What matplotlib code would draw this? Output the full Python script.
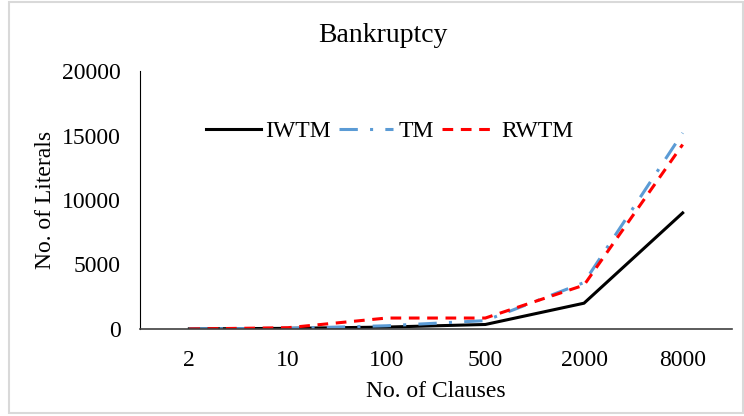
import matplotlib
matplotlib.use("Agg")
import matplotlib.pyplot as plt
from matplotlib.patches import Rectangle

plt.rcParams['font.family'] = ['Liberation Serif', 'DejaVu Serif']

clauses = ["2", "10", "100", "500", "2000", "8000"]
iwtm = [10, 50, 150, 350, 2000, 9000]
tm = [10, 50, 250, 650, 3600, 15200]
rwtm = [0, 100, 850, 850, 3400, 14300]
yticks = [0, 5000, 10000, 15000, 20000]

W, H = 744, 416
fig = plt.figure(figsize=(W / 100, H / 100), dpi=100)
fig.patches.append(Rectangle((9 / W, 3 / H), 734 / W, 411 / H, transform=fig.transFigure,
                             fill=False, edgecolor='#d9d9d9', linewidth=1.5))
ax = fig.add_axes([140 / W, 1 - 329 / H, (732 - 140) / W, (329 - 71) / H])

x = list(range(len(clauses)))
ax.plot(x, iwtm, color='black', linewidth=2.2, label='IWTM')
ax.plot(x, tm, color='#5b9bd5', linewidth=2.2, linestyle=(0, (6, 4, 1, 4)), label='TM')
ax.plot(x, rwtm, color='#ff0000', linewidth=2.2, linestyle=(0, (3.5, 2.5)), label='RWTM')

ax.set_xlim(-0.5, len(clauses) - 0.5)
ax.set_ylim(0, 20000)
ax.set_xticks(x)
ax.set_xticklabels(clauses)
ax.set_yticks(yticks)
ax.set_yticklabels([str(v) for v in yticks])
ax.tick_params(axis='both', length=0, labelsize=17, colors='black')
ax.tick_params(axis='x', pad=15)
ax.tick_params(axis='y', pad=14)
for s in ['top', 'right']:
    ax.spines[s].set_visible(False)
ax.spines['left'].set_color('black')
ax.spines['bottom'].set_color('#404040')
ax.spines['bottom'].set_linewidth(1.2)

ax.set_xlabel('No. of Clauses', fontsize=17, labelpad=7)
ax.set_ylabel('No. of Literals', fontsize=17, labelpad=4)
fig.text(383 / W, 1 - 36 / H, 'Bankruptcy', fontsize=20, ha='center', va='center')

ax.legend(loc='center left', bbox_to_anchor=(0.096, 0.765), ncol=3, frameon=False, fontsize=17,
          handlelength=2.3, columnspacing=0.35, handletextpad=0.2, borderaxespad=0)

fig.savefig('out.png', dpi=100)
